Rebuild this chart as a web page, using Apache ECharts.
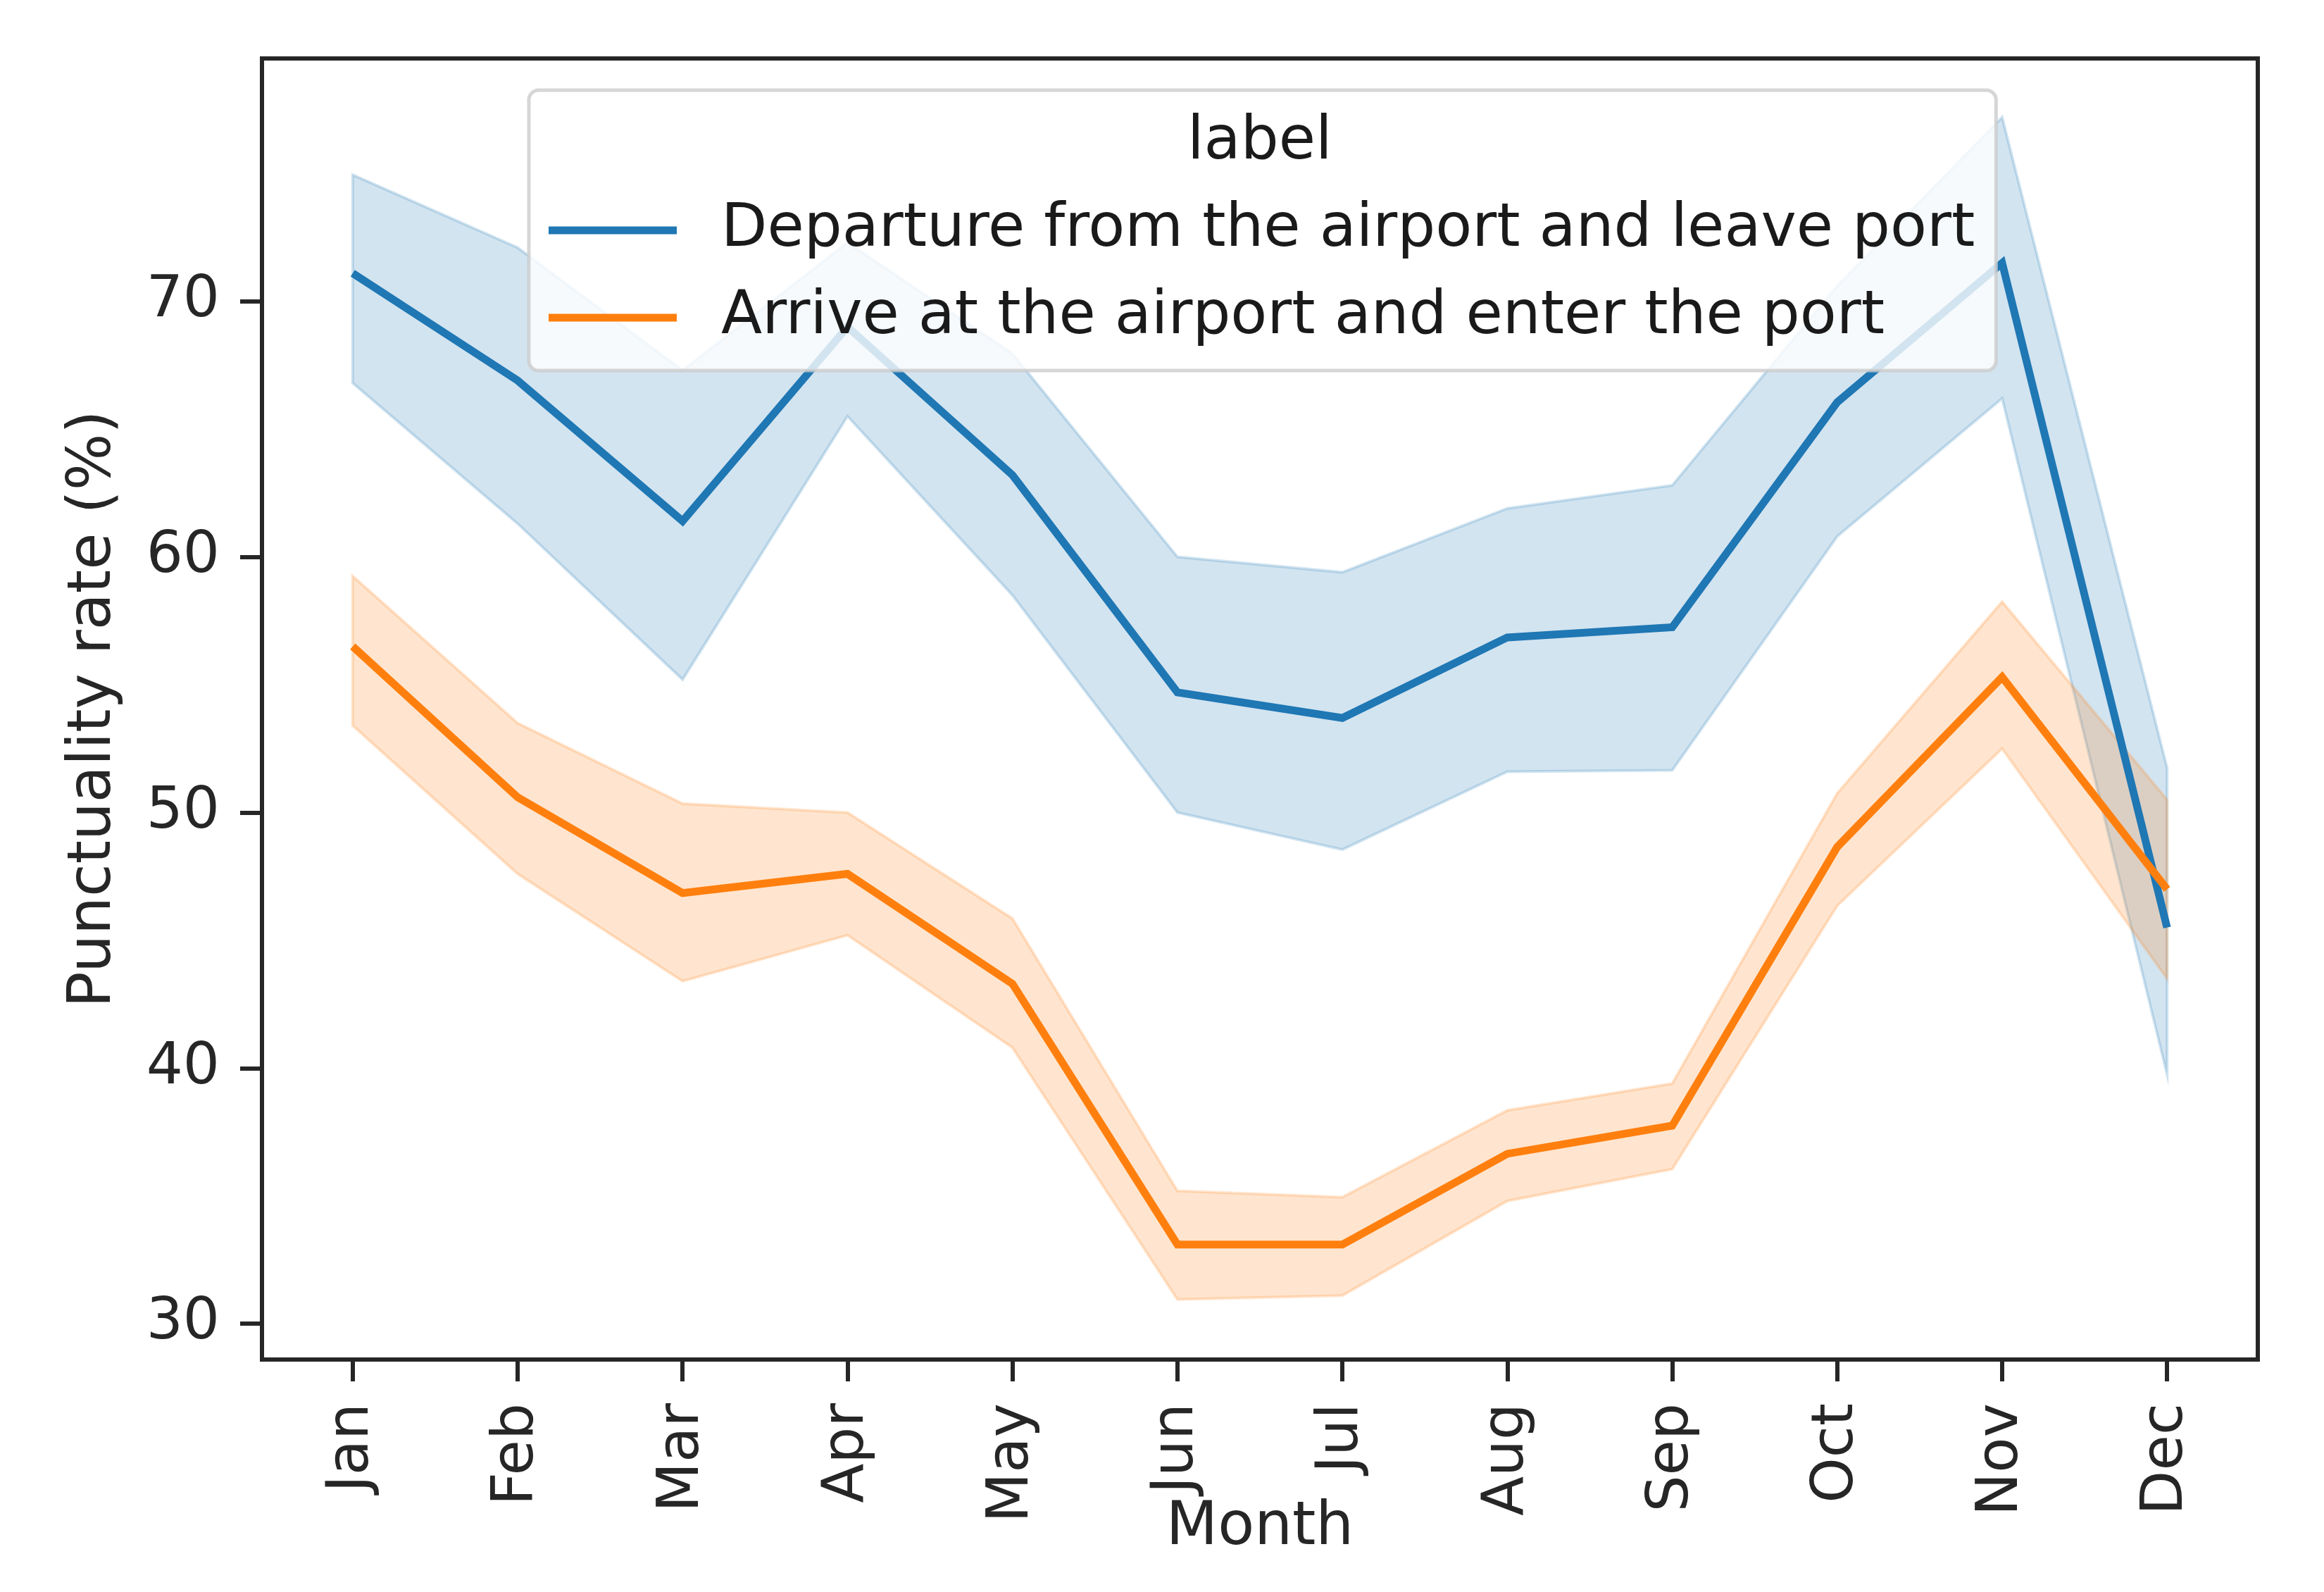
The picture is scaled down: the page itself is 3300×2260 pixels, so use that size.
<!DOCTYPE html>
<html>
<head>
<meta charset="utf-8">
<script src="https://cdn.jsdelivr.net/npm/echarts@6/dist/echarts.min.js"></script>
<style>
  html, body { margin: 0; padding: 0; background: #ffffff; }
  #chart { width: 3300px; height: 2260px; }
</style>
</head>
<body>
<div id="chart"></div>
<script>
// ---- data ----
const months = ['Jan','Feb','Mar','Apr','May','Jun','Jul','Aug','Sep','Oct','Nov','Dec'];
const seriesNames = ['Departure from the airport and leave port', 'Arrive at the airport and enter the port'];

const depMean = [71.1, 66.9, 61.4, 69.0, 63.2, 54.7, 53.7, 56.85, 57.25, 66.05, 71.5, 45.5];
const depLow  = [66.8, 61.3, 55.2, 65.5, 58.5, 50.0, 48.55, 51.6, 51.65, 60.8, 66.2, 39.75];
const depHigh = [74.95, 72.1, 67.3, 72.3, 67.95, 60.0, 59.4, 61.9, 62.8, 70.6, 77.2, 51.75];

const arrMean = [56.5, 50.6, 46.85, 47.6, 43.3, 33.1, 33.1, 36.65, 37.75, 48.65, 55.3, 47.0];
const arrLow  = [53.4, 47.6, 43.4, 45.2, 40.8, 30.95, 31.1, 34.8, 36.05, 46.35, 52.5, 43.5];
const arrHigh = [59.25, 53.5, 50.35, 50.0, 45.85, 35.2, 34.95, 38.35, 39.4, 50.75, 58.25, 50.5];

const yTicks = [30, 40, 50, 60, 70];
const yRange = [28.6, 79.5];
const xRange = [-0.55, 11.55];

// ---- styles ----
const FONT = 'DejaVu Sans';
const INK = '#262626';
const BLUE = '#1f77b4';
const ORANGE = '#ff7f0e';
const BLUE_BAND = 'rgba(31,119,180,0.2)';
const ORANGE_BAND = 'rgba(255,127,14,0.2)';

const chart = echarts.init(document.getElementById('chart'), null, { renderer: 'canvas' });

function bandSeries(id, lo, hi, color, z) {
  return {
    id: id,
    type: 'custom',
    silent: true,
    z: z,
    clip: true,
    data: months.map((m, i) => [i, lo[i], hi[i]]),
    encode: { x: 0, y: [1, 2] },
    renderItem: function (params, api) {
      if (params.dataIndex !== 0) return null;
      const top = hi.map((v, i) => api.coord([i, v]));
      const bottom = lo.map((v, i) => api.coord([i, v])).reverse();
      return {
        type: 'polygon',
        shape: { points: top.concat(bottom) },
        style: { fill: color, stroke: color, lineWidth: 4 }
      };
    }
  };
}

function lineSeries(name, vals, color, z) {
  return {
    name: name,
    type: 'line',
    z: z,
    symbol: 'none',
    showSymbol: false,
    data: months.map((m, i) => [i, vals[i]]),
    lineStyle: { color: color, width: 11, cap: 'butt', join: 'miter' },
    itemStyle: { color: color }
  };
}

const monthIdx = months.map((m, i) => i);

const option = {
  animation: false,
  backgroundColor: '#ffffff',
  grid: {
    left: 372, right: 94, top: 83, bottom: 330,
    show: true, borderColor: INK, borderWidth: 6, backgroundColor: 'transparent'
  },
  xAxis: {
    type: 'value',
    min: xRange[0], max: xRange[1],
    name: 'Month',
    nameLocation: 'middle',
    nameGap: 197,
    nameMoveOverlap: false,
    nameTextStyle: { fontFamily: FONT, fontSize: 85, color: INK },
    axisLine: { show: true, onZero: false, lineStyle: { color: INK, width: 6 } },
    axisTick: { show: true, inside: false, length: 31, lineStyle: { color: INK, width: 6 }, customValues: monthIdx },
    axisLabel: {
      show: true, rotate: 90, margin: 62, fontFamily: FONT, fontSize: 82, color: INK,
      customValues: monthIdx,
      formatter: function (v) { return months[Math.round(v)] || ''; }
    },
    splitLine: { show: false }
  },
  yAxis: {
    type: 'value',
    min: yRange[0], max: yRange[1],
    name: 'Punctuality rate (%)',
    nameLocation: 'middle',
    nameGap: 196,
    nameMoveOverlap: false,
    nameTextStyle: { fontFamily: FONT, fontSize: 85, color: INK },
    axisLine: { show: true, onZero: false, lineStyle: { color: INK, width: 6 } },
    axisTick: { show: true, inside: false, length: 31, lineStyle: { color: INK, width: 6 }, customValues: yTicks },
    axisLabel: {
      show: true, margin: 60, fontFamily: FONT, fontSize: 82, color: INK,
      customValues: yTicks,
      formatter: function (v) { return String(v); }
    },
    splitLine: { show: false }
  },
  legend: {
    show: true,
    orient: 'vertical',
    left: 751,
    top: 128,
    data: seriesNames,
    icon: 'rect',
    itemWidth: 182,
    itemHeight: 11,
    itemGap: 24,
    padding: [149, 30, 25, 28],
    backgroundColor: 'rgba(255,255,255,0.8)',
    borderColor: 'rgba(204,204,204,0.8)',
    borderWidth: 5,
    borderRadius: 14,
    selectedMode: false,
    z: 10,
    textStyle: {
      fontFamily: FONT, fontSize: 85, color: '#1a1a1a',
      lineHeight: 100,
      padding: [0, 0, 0, 58]
    }
  },
  graphic: [
    {
      type: 'text',
      left: 1786 - 100,
      top: 160,
      z: 20,
      style: {
        text: 'label',
        width: 200,
        align: 'center',
        x: 100,
        fontFamily: FONT,
        fontSize: 85,
        fill: '#1a1a1a'
      }
    }
  ],
  series: [
    bandSeries('depBand', depLow, depHigh, BLUE_BAND, 1),
    lineSeries(seriesNames[0], depMean, BLUE, 3),
    bandSeries('arrBand', arrLow, arrHigh, ORANGE_BAND, 1),
    lineSeries(seriesNames[1], arrMean, ORANGE, 3)
  ]
};

chart.setOption(option);
</script>
</body>
</html>
